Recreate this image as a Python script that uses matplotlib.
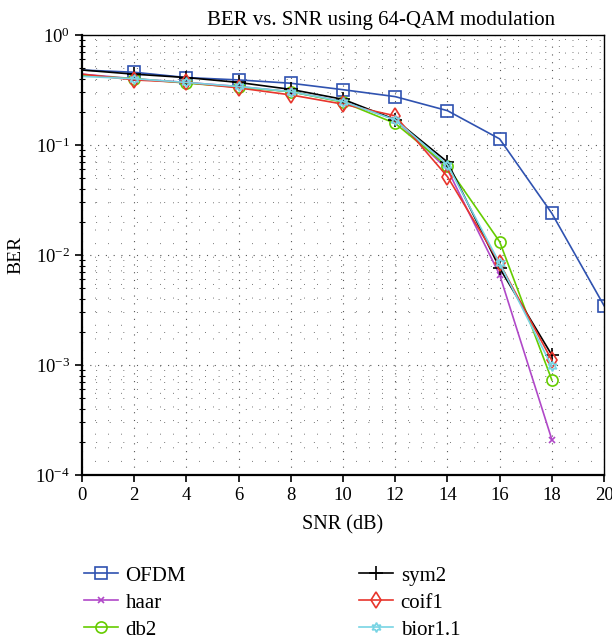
import numpy as np
import matplotlib
matplotlib.use("Agg")
import matplotlib.pyplot as plt
from matplotlib.ticker import LogLocator, MultipleLocator, NullFormatter

plt.rcParams['font.family'] = ['Liberation Serif', 'DejaVu Serif']
plt.rcParams['mathtext.fontset'] = 'stix'

# SNR values (dB)
snr_ofdm = [0, 2, 4, 6, 8, 10, 12, 14, 16, 18, 20]
snr_wav = [0, 2, 4, 6, 8, 10, 12, 14, 16, 18]

# BER
ber_ofdm = [0.48, 0.458, 0.41, 0.39, 0.364, 0.318, 0.275, 0.205, 0.1135, 0.0239, 0.00346]
ber_haar = [0.44, 0.40, 0.37, 0.34, 0.305, 0.248, 0.17, 0.06, 0.0066, 0.00021]
ber_db2 = [0.43, 0.40, 0.365, 0.335, 0.305, 0.245, 0.157, 0.064, 0.0132, 0.00073]
ber_sym2 = [0.48, 0.44, 0.41, 0.37, 0.32, 0.26, 0.17, 0.07, 0.0076, 0.00123]
ber_coif1 = [0.44, 0.39, 0.37, 0.33, 0.285, 0.235, 0.184, 0.0515, 0.0084, 0.0011]
ber_bior = [0.42, 0.40, 0.37, 0.34, 0.305, 0.248, 0.169, 0.066, 0.0084, 0.00097]

fig = plt.figure(figsize=(6.12, 6.39), dpi=100)
ax = fig.add_axes([0.134, 0.2567, 0.853, 0.6886])

mk = slice(1, None)
ax.semilogy(snr_ofdm, ber_ofdm, color='#2f52b0', lw=1.2, marker='s', ms=8,
            mfc='none', mew=1.2, markevery=mk, label='OFDM')
ax.semilogy(snr_wav, ber_haar, color='#b048c8', lw=1.2, marker='x', ms=4,
            mew=1.2, markevery=mk, label='haar')
ax.semilogy(snr_wav, ber_db2, color='#66cc00', lw=1.2, marker='o', ms=8,
            mfc='none', mew=1.2, markevery=mk, label='db2')
ax.semilogy(snr_wav, ber_sym2, color='black', lw=1.2, marker='+', ms=10,
            mew=1.2, markevery=mk, label='sym2')
ax.semilogy(snr_wav, ber_coif1, color='#e8352c', lw=1.2, marker='d', ms=8,
            mfc='none', mew=1.2, markevery=mk, label='coif1')
ax.semilogy(snr_wav, ber_bior, color='#78d4e4', lw=1.2, marker=(6, 1, 0), ms=7,
            mfc='none', mew=1.2, markevery=mk, label='bior1.1')

ax.set_xlim(0, 20)
ax.set_ylim(1e-4, 1)
ax.xaxis.set_major_locator(MultipleLocator(2))
ax.xaxis.set_minor_locator(MultipleLocator(0.5))
ax.yaxis.set_major_locator(LogLocator(base=10, numticks=10))
ax.yaxis.set_minor_locator(LogLocator(base=10, subs=np.arange(2, 10), numticks=10))
ax.yaxis.set_minor_formatter(NullFormatter())

ax.grid(which='major', color='#555555', ls=(0, (1, 6)), lw=0.8)
ax.grid(which='minor', color='#777777', ls=(0, (1, 13)), lw=0.7)
ax.set_axisbelow(True)

for s in ['left', 'bottom']:
    ax.spines[s].set_linewidth(1.6)
for s in ['top', 'right']:
    ax.spines[s].set_linewidth(1.0)
ax.tick_params(which='major', direction='out', length=5, width=1.2, labelsize=13.5)
ax.tick_params(axis='x', which='minor', length=0)
ax.tick_params(axis='y', which='minor', direction='inout', length=5, width=0.8)

ax.set_xlabel('SNR (dB)', fontsize=14.5, labelpad=8)
ax.set_ylabel('BER', fontsize=14, labelpad=8)
ax.set_title('BER vs. SNR using 64-QAM modulation', fontsize=15, x=0.573, pad=7)

ax.legend(loc='upper left', bbox_to_anchor=(-0.013, -0.188), ncol=2, frameon=False,
          fontsize=15, handlelength=1.63, handletextpad=0.38, columnspacing=8.3,
          labelspacing=0.36, borderaxespad=0)

fig.savefig('out.png', dpi=100)
